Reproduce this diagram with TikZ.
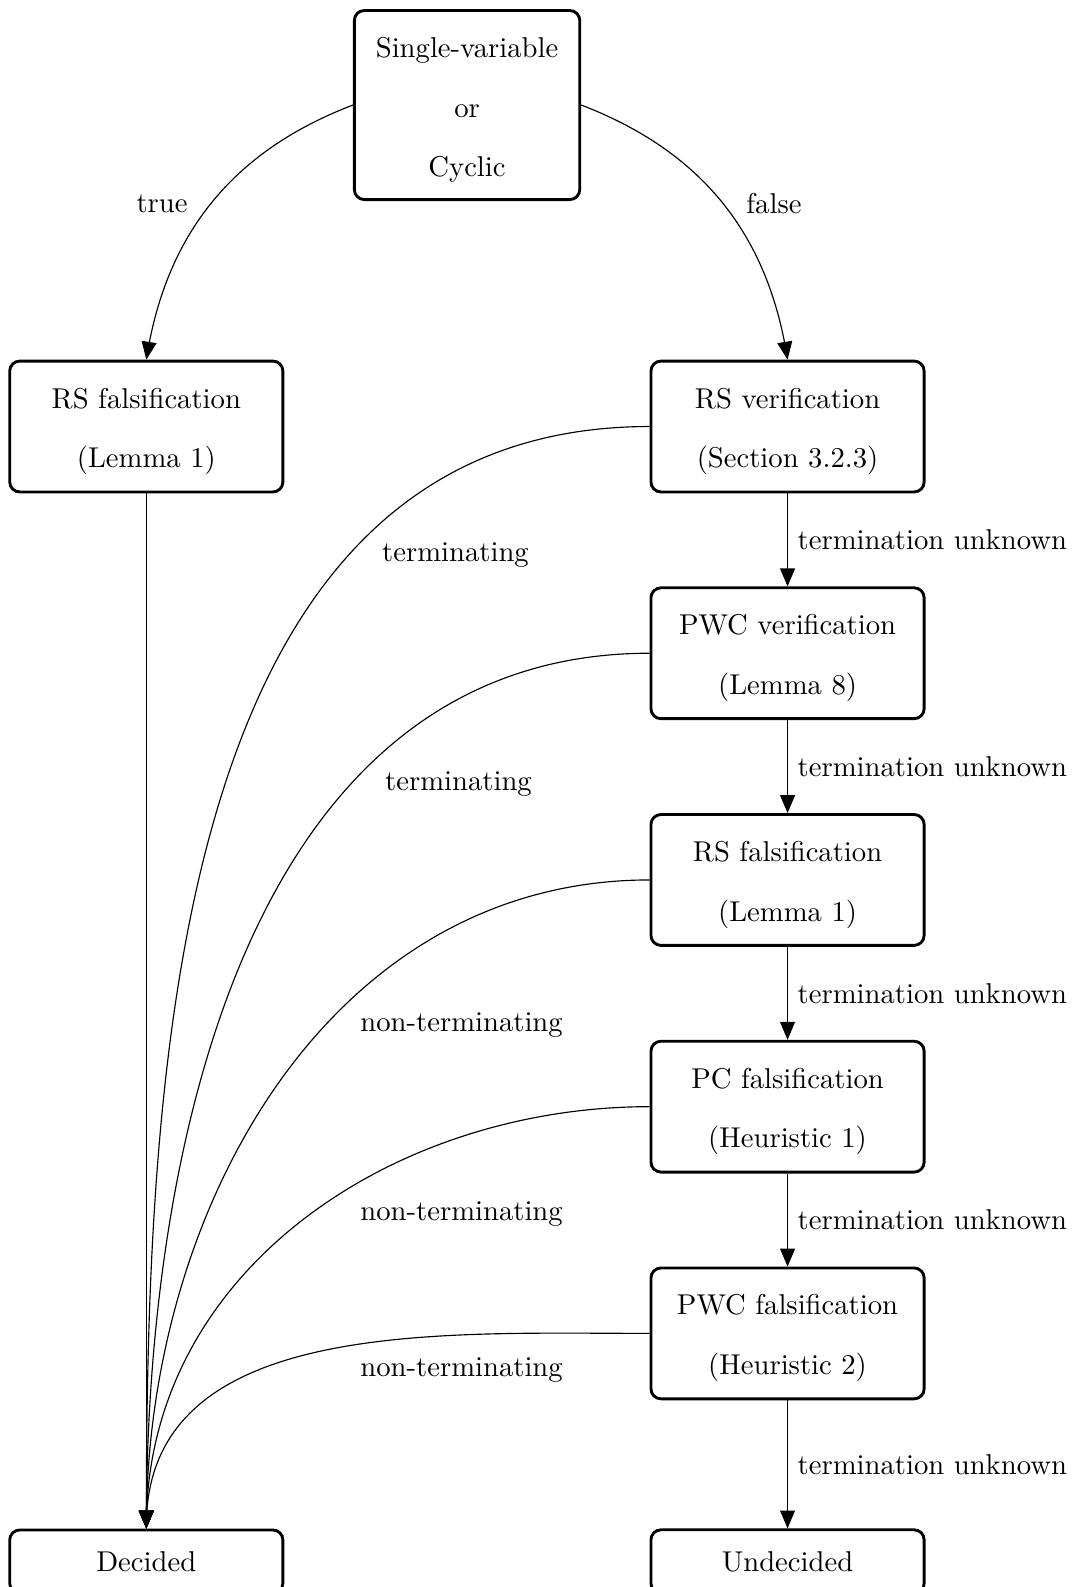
\documentclass[tikz,border=0pt]{standalone}
\usepackage{amsmath}
\usepackage{tikz}
\usetikzlibrary{arrows}
\newcommand{\firstln}{\rule{0pt}{10.4pt}}

\begin{document}
\begin{tikzpicture}[line width=0.4pt,
    box/.style={draw,rectangle,rounded corners=3.5pt,line width=1pt,align=center,inner sep=7.5pt,font=\linespread{1.73}\selectfont},
    multi/.style={inner ysep=6pt},
    wbox/.style={box,minimum width=3.35cm}]
      \useasboundingbox (0,0) rectangle (13.194,-19.460);

      \node [box,multi] (start) at (5.727,-1.288) {\firstln Single-variable\\or\\Cyclic};
      \node [wbox,multi] (rsf1) at (1.794,-5.230) {\firstln RS falsification\\(Lemma 1)};
      \node [wbox,multi] (rsv) at (9.657,-5.230) {\firstln RS verification\\(Section 3.2.3)};
      \node [wbox,multi] (pwcv) at (9.657,-8.010) {\firstln PWC verification\\(Lemma 8)};
      \node [wbox,multi] (rsf2) at (9.657,-10.790) {\firstln RS falsification\\(Lemma 1)};
      \node [wbox,multi] (pcf) at (9.657,-13.570) {\firstln PC falsification\\(Heuristic 1)};
      \node [wbox,multi] (pwcf) at (9.657,-16.350) {\firstln PWC falsification\\(Heuristic 2)};
      \node [wbox] (dec) at (1.794,-19.148) {Decided};
      \node [wbox] (undec) at (9.657,-19.148) {Undecided};

      \draw [-triangle 45] (start.west) to[bend right] (rsf1.north);
      \draw [-triangle 45] (start.east) to[bend left] (rsv.north);
      \node (ltrue) at (1.987,-2.495) {true};
      \node (lfalse) at (9.491,-2.495) {false};

      \draw [-triangle 45] (rsf1) -- (dec);
      \draw [-triangle 45] (rsv) -- node[right] (u1) {termination unknown} (pwcv);
      \draw [-triangle 45] (pwcv) -- node[right] (u2) {termination unknown} (rsf2);
      \draw [-triangle 45] (rsf2) -- node[right] (u3) {termination unknown} (pcf);
      \draw [-triangle 45] (pcf) -- node[right] (u4) {termination unknown} (pwcf);
      \draw [-triangle 45] (pwcf) -- node[right] (u5) {termination unknown} (undec);

      \draw [-triangle 45] (rsv.west) to[out=180,in=90] (dec.north);
      \draw [-triangle 45] (pwcv.west) to[out=180,in=90] (dec.north);
      \draw [-triangle 45] (rsf2.west) to[out=180,in=90] (dec.north);
      \draw [-triangle 45] (pcf.west) to[out=180,in=90] (dec.north);
      \draw [-triangle 45] (pwcf.west) to[out=180,in=90] (dec.north);
      \node (t1) at (5.585,-6.807) {terminating};
      \node (t2) at (5.622,-9.618) {terminating};
      \node (n1) at (5.660,-12.572) {non-terminating};
      \node (n2) at (5.660,-14.881) {non-terminating};
      \node (n3) at (5.660,-16.804) {non-terminating};
    \end{tikzpicture}
\end{document}
